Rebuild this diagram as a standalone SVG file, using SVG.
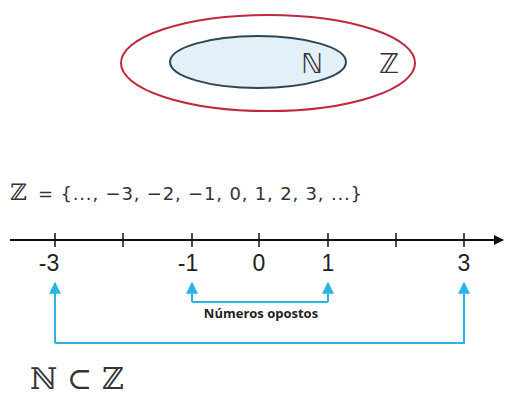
<svg xmlns="http://www.w3.org/2000/svg" width="509" height="397" viewBox="0 0 509 397">
<defs>
<marker id="ah" viewBox="0 0 10 10" refX="9" refY="5" markerWidth="6" markerHeight="6" orient="auto"><path d="M0,0 L10,5 L0,10 z" fill="#2ab4e4"/></marker>
<marker id="ak" viewBox="0 0 10 10" refX="9" refY="5" markerWidth="5" markerHeight="5" orient="auto"><path d="M0,0 L10,5 L0,10 z" fill="#111"/></marker>
</defs>
<style>
.num{font-family:"Liberation Sans",Arial,sans-serif;font-size:23px;fill:#222;text-anchor:middle}
.tick{stroke:#111;stroke-width:1.5}
.blue{stroke:#2ab4e4;stroke-width:2;fill:none}
</style>
<rect width="509" height="397" fill="#fff"/>
<g id="venn">
<ellipse cx="268" cy="63" rx="147" ry="48" fill="none" stroke="#c0283f" stroke-width="2"/>
<ellipse cx="258" cy="62" rx="88" ry="26" fill="#e3f0f7" stroke="#2f4656" stroke-width="2"/>
<text x="312" y="73" font-family="DejaVu Sans,sans-serif" font-size="27" fill="#333" text-anchor="middle">ℕ</text>
<text x="389" y="73" font-family="DejaVu Sans,sans-serif" font-size="27" fill="#333" text-anchor="middle">ℤ</text>
</g>
<g id="setdef">
<text x="10" y="200" font-family="DejaVu Serif,serif" font-size="23" fill="#333">ℤ</text>
<text x="38" y="200" font-family="DejaVu Sans,sans-serif" font-size="18" fill="#333" textLength="324" lengthAdjust="spacing">= {..., −3, −2, −1, 0, 1, 2, 3, ...}</text>
</g>
<g id="numberline">
<line x1="10" y1="240" x2="503" y2="240" stroke="#111" stroke-width="2" marker-end="url(#ak)"/>
<line class="tick" x1="55" y1="233" x2="55" y2="247"/>
<line class="tick" x1="123" y1="233" x2="123" y2="247"/>
<line class="tick" x1="192" y1="233" x2="192" y2="247"/>
<line class="tick" x1="259" y1="233" x2="259" y2="247"/>
<line class="tick" x1="328" y1="233" x2="328" y2="247"/>
<line class="tick" x1="396" y1="233" x2="396" y2="247"/>
<line class="tick" x1="464" y1="233" x2="464" y2="247"/>
<text class="num" x="49" y="271">-3</text>
<text class="num" x="188" y="271">-1</text>
<text class="num" x="259" y="271">0</text>
<text class="num" x="328" y="271">1</text>
<text class="num" x="464" y="271">3</text>
</g>
<g id="connectors">
<path class="blue" d="M192,302 L328,302"/>
<path class="blue" d="M192,302 L192,283" marker-end="url(#ah)"/>
<path class="blue" d="M328,302 L328,283" marker-end="url(#ah)"/>
<path class="blue" d="M55,343 L55,283" marker-end="url(#ah)"/>
<path class="blue" d="M55,343 L464,343 L464,283" marker-end="url(#ah)"/>
</g>
<g id="label">
<text x="261" y="318" font-family="Open Sans,sans-serif" font-size="13" font-weight="bold" fill="#222" text-anchor="middle">Números opostos</text>
</g>
<g id="subset">
<text x="30" y="389" font-family="DejaVu Serif,serif" font-size="30" fill="#333">ℕ ⊂ ℤ</text>
</g>
</svg>
